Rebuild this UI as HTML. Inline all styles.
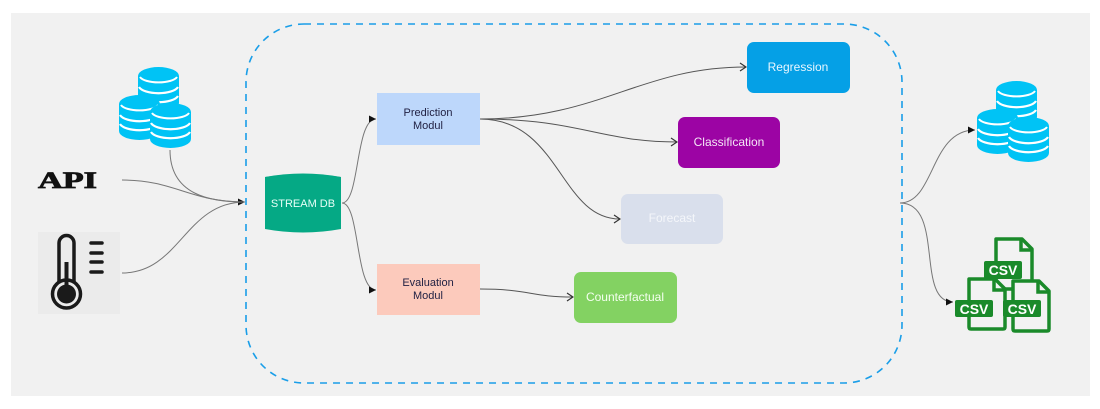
<!DOCTYPE html>
<html><head><meta charset="utf-8"><style>
html,body{margin:0;padding:0;background:#fff;}
svg{display:block;font-family:"Liberation Sans",sans-serif;}
</style></head><body>
<svg width="1100" height="409" viewBox="0 0 1100 409" xmlns="http://www.w3.org/2000/svg">
<defs>
<marker id="a" markerWidth="8" markerHeight="8" refX="7" refY="4" orient="auto" markerUnits="userSpaceOnUse">
<path d="M0,0.5 L7,4 L0,7.5 Z" fill="#111"/></marker>
<marker id="o" markerWidth="8" markerHeight="10" refX="7" refY="5" orient="auto" markerUnits="userSpaceOnUse">
<path d="M1,1 L7,5 L1,9" fill="none" stroke="#333" stroke-width="1.2"/></marker>
<g id="cyl">
<path d="M0,9 A20.5,9 0 0 1 41,9 L41,36 A20.5,9 0 0 1 0,36 Z" fill="#00c3f5"/>
<path d="M1,20 A20,8 0 0 0 40,20 M1,29 A20,8 0 0 0 40,29" fill="none" stroke="#fff" stroke-width="2.2"/>
<path d="M2,10 A19,7 0 0 0 39,10" fill="none" stroke="#fff" stroke-width="2"/>
</g>
<g id="dbs">
<use href="#cyl" x="19" y="0"/>
<use href="#cyl" x="0" y="28"/>
<use href="#cyl" x="31" y="36"/>
</g>
<g id="file">
<path d="M2,2 H28 L38,12 V50 Q38,52 36,52 H4 Q2,52 2,50 Z" fill="#f2f2f2" stroke="#1a8a2a" stroke-width="3.5" stroke-linejoin="round"/>
<path d="M27,2 V13 H38" fill="none" stroke="#1a8a2a" stroke-width="3.5"/>
</g>
</defs>
<rect x="11" y="13" width="1079" height="383" fill="#f1f1f1"/>
<rect x="246" y="24" width="656" height="359" rx="58" fill="none" stroke="#1a9ee8" stroke-width="1.6" stroke-dasharray="7,6"/>

<use href="#dbs" x="119" y="67"/>
<text x="38" y="188" font-family="'Liberation Serif',serif" font-weight="900" font-size="23" fill="#111" textLength="59" lengthAdjust="spacingAndGlyphs" stroke="#111" stroke-width="0.8">API</text>
<rect x="38" y="232" width="82" height="82" fill="#ebebeb"/>
<path d="M59,282 V243 A7.5,7.5 0 0 1 74,243 V282" fill="none" stroke="#1a1a1a" stroke-width="3.5"/>
<circle cx="66.5" cy="294" r="14" fill="none" stroke="#1a1a1a" stroke-width="3.5"/>
<circle cx="66.5" cy="294" r="9.5" fill="#1a1a1a"/>
<rect x="64.5" y="262" width="4" height="30" fill="#1a1a1a"/>
<g stroke="#1a1a1a" stroke-width="3.5" stroke-linecap="round">
<line x1="91" y1="243" x2="102" y2="243"/><line x1="91" y1="253" x2="102" y2="253"/>
<line x1="91" y1="262" x2="102" y2="262"/><line x1="91" y1="272" x2="102" y2="272"/></g>

<g fill="none" stroke="#777" stroke-width="1">
<path d="M170,150 C170,195 210,202 245,202" marker-end="url(#a)"/>
<path d="M122,180 C175,180 190,202 245,202"/>
<path d="M122,273 C180,273 185,202 245,202"/>
<path d="M342,203 C360,203 355,119 376,119" marker-end="url(#a)"/>
<path d="M342,203 C360,203 355,290 376,290" marker-end="url(#a)"/>
<path d="M480,119 C600,119 640,67 746,67" stroke="#555" marker-end="url(#o)"/>
<path d="M480,119 C580,119 600,142 677,142" stroke="#555" marker-end="url(#o)"/>
<path d="M480,119 C560,119 560,219 620,219" stroke="#555" marker-end="url(#o)"/>
<path d="M480,289 C530,289 530,297 573,297" stroke="#555" marker-end="url(#o)"/>
<path d="M900,203 C935,203 930,130 975,130" marker-end="url(#a)"/>
<path d="M900,203 C945,203 915,302 953,302" marker-end="url(#a)"/>
</g>

<path d="M265,177 Q303,170 341,177 V229 Q303,236 265,229 Z" fill="#05a985"/>
<path d="M265,177 Q303,171 341,177 Q303,176 265,177 Z" fill="#05a985"/>
<text x="303" y="207" font-size="11" fill="#e8fff8" text-anchor="middle">STREAM DB</text>

<rect x="377" y="93" width="103" height="52" fill="#bdd7fb"/>
<text x="428" y="116" font-size="11" fill="#222244" text-anchor="middle">Prediction</text>
<text x="428" y="129" font-size="11" fill="#222244" text-anchor="middle">Modul</text>
<rect x="377" y="264" width="103" height="51" fill="#fccabc"/>
<text x="428" y="286" font-size="11" fill="#222244" text-anchor="middle">Evaluation</text>
<text x="428" y="299" font-size="11" fill="#222244" text-anchor="middle">Modul</text>

<rect x="747" y="42" width="103" height="51" rx="7" fill="#05a0e6"/>
<text x="798" y="71" font-size="12" fill="#e8f6ff" text-anchor="middle">Regression</text>
<rect x="678" y="117" width="102" height="51" rx="7" fill="#9c04a4"/>
<text x="729" y="146" font-size="12" fill="#f4e6f6" text-anchor="middle">Classification</text>
<rect x="621" y="194" width="102" height="50" rx="7" fill="#d9dfec"/>
<text x="672" y="222" font-size="12" fill="#f4f6fa" text-anchor="middle">Forecast</text>
<rect x="574" y="272" width="103" height="51" rx="7" fill="#83d262"/>
<text x="625" y="301" font-size="12" fill="#f4fff0" text-anchor="middle">Counterfactual</text>

<use href="#dbs" x="977" y="81"/>
<use href="#file" x="994" y="237"/>
<rect x="984" y="261" width="38" height="18" rx="2" fill="#1a8a2a"/>
<text x="1003" y="275" font-size="14" font-weight="bold" fill="#fff" text-anchor="middle">CSV</text>
<use href="#file" x="967" y="277"/>
<use href="#file" x="1011" y="279"/>
<rect x="955" y="300" width="38" height="17" rx="2" fill="#1a8a2a"/>
<text x="974" y="314" font-size="14" font-weight="bold" fill="#fff" text-anchor="middle">CSV</text>
<rect x="1003" y="300" width="38" height="17" rx="2" fill="#1a8a2a"/>
<text x="1022" y="314" font-size="14" font-weight="bold" fill="#fff" text-anchor="middle">CSV</text>
</svg>
</body></html>
